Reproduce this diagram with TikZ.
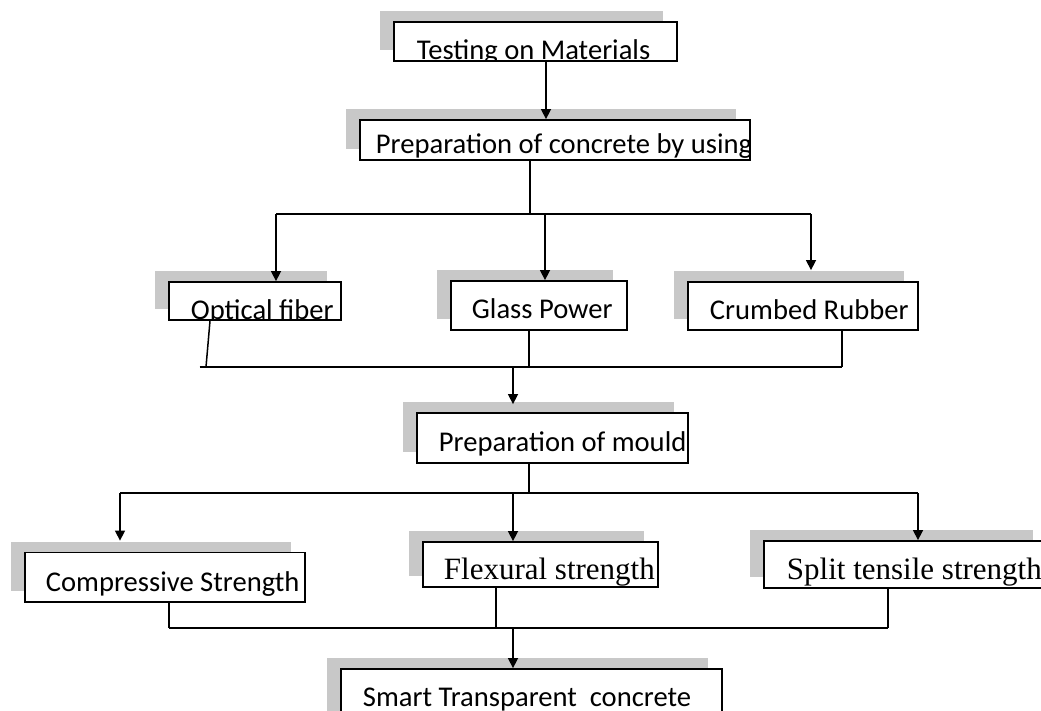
\documentclass[tikz,border=0pt]{standalone}
\usepackage{fontspec}
\setmainfont{Carlito}
\newfontfamily\serifont{Liberation Serif}
\usetikzlibrary{arrows.meta,shadows}
\definecolor{ShadowGray}{RGB}{200,200,200}
\newcommand\boxfont{\fontsize{28.6}{31}\selectfont}
\newcommand\serifbox{\serifont\fontsize{31}{34}\selectfont}
\tikzset{
  flowbox/.style={draw,line width=1.8pt,fill=white,inner sep=0pt,
    drop shadow={shadow xshift=-14pt,shadow yshift=11pt,fill=ShadowGray,opacity=1}},
  boxtext/.style n args={3}{path picture={
    \node[anchor=base west,inner sep=0pt,minimum size=0pt,font=\boxfont]
      at ([shift={(#1pt,#2pt)}]path picture bounding box.south west) {#3};}},
  link/.style={line width=1.5pt},
  flowarrow/.style={link,-{Triangle[length=10pt,width=10pt]}}
}

\begin{document}
\begin{tikzpicture}[x=1pt,y=-1pt]
  \useasboundingbox (0,0) rectangle (1041,711);

  % boxes
  \node[flowbox,minimum width=283pt,minimum height=39pt,
    boxtext={22}{1.5}{Testing on Materials}] (testing) at (535.5,41.5) {};
  \node[flowbox,minimum width=390pt,minimum height=40pt,
    boxtext={15}{6}{Preparation of concrete by using}] (prepconc) at (555,140) {};
  \node[flowbox,minimum width=172pt,minimum height=38pt,
    boxtext={21}{1}{Optical fiber}] (optical) at (255,301) {};
  \node[flowbox,minimum width=176pt,minimum height=49pt,
    boxtext={20}{12}{Glass Power}] (glass) at (539,305.5) {};
  \node[flowbox,minimum width=230pt,minimum height=48pt,
    boxtext={21}{11}{Crumbed Rubber}] (crumbed) at (803,306) {};
  \node[flowbox,minimum width=271pt,minimum height=50pt,
    boxtext={21}{12}{Preparation of mould}] (mould) at (552.5,438) {};
  \node[flowbox,minimum width=280pt,minimum height=49.5pt,
    boxtext={20}{11}{Compressive Strength}] (compressive) at (165,577.25) {};
  \node[flowbox,minimum width=235pt,minimum height=45pt,
    boxtext={20}{8}{\serifbox Flexural strength}] (flexural) at (540.5,564.5) {};
  \node[flowbox,minimum width=283pt,minimum height=47pt,
    boxtext={22}{9}{\serifbox Split tensile strength}] (split) at (905.5,564.5) {};
  \node[flowbox,minimum width=381pt,minimum height=56pt,
    boxtext={21}{19}{Smart Transparent~ concrete}] (smart) at (531.5,697) {};

  % junction points
  \coordinate (s1) at (530,214);
  \coordinate (s1l) at (276,214);
  \coordinate (s1m) at (545,214);
  \coordinate (s1r) at (811,214);
  \coordinate (m1l) at (199.5,367);
  \coordinate (m1r) at (842,367);
  \coordinate (m1) at (513,367);
  \coordinate (s2) at (529,493);
  \coordinate (s2l) at (120,493);
  \coordinate (s2m) at (513,493);
  \coordinate (s2r) at (918,493);
  \coordinate (m2l) at (169,628);
  \coordinate (m2r) at (888,628);
  \coordinate (m2) at (513,628);

  % connectors
  \draw[flowarrow] ([xshift=10.5pt]testing.south) -- ([xshift=-9pt]prepconc.north);
  \draw[link] ([xshift=-25pt]prepconc.south) -- (s1);
  \draw[link] (s1l) -- (s1r);
  \draw[flowarrow] (s1l) -- (s1l |- optical.north);
  \draw[flowarrow] (s1m) -- (s1m |- glass.north);
  \draw[flowarrow] (s1r) -- ([yshift=11pt]s1r |- crumbed.north);

  \draw[link] ([xshift=-45pt]optical.south) -- ([xshift=6.5pt]m1l);
  \draw[link] ([xshift=-10pt]glass.south) -- ([xshift=-10pt]glass.south |- m1l);
  \draw[link] ([xshift=39pt]crumbed.south) -- (m1r);
  \draw[link] (m1l) -- (m1r);
  \draw[flowarrow] (m1) -- ([yshift=8pt]m1 |- mould.north);

  \draw[link] ([xshift=-23.5pt]mould.south) -- (s2);
  \draw[link] (s2l) -- (s2r);
  \draw[flowarrow] (s2l) -- ([yshift=11pt]s2l |- compressive.north);
  \draw[flowarrow] (s2m) -- (s2m |- flexural.north);
  \draw[flowarrow] (s2r) -- (s2r |- split.north);

  \draw[link] ([xshift=4pt]compressive.south) -- (m2l);
  \draw[link] ([xshift=-44.5pt]flexural.south) -- ([xshift=-44.5pt]flexural.south |- m2);
  \draw[link] ([xshift=-17.5pt]split.south) -- (m2r);
  \draw[link] (m2l) -- (m2r);
  \draw[flowarrow] (m2) -- (m2 |- smart.north);
\end{tikzpicture}
\end{document}
